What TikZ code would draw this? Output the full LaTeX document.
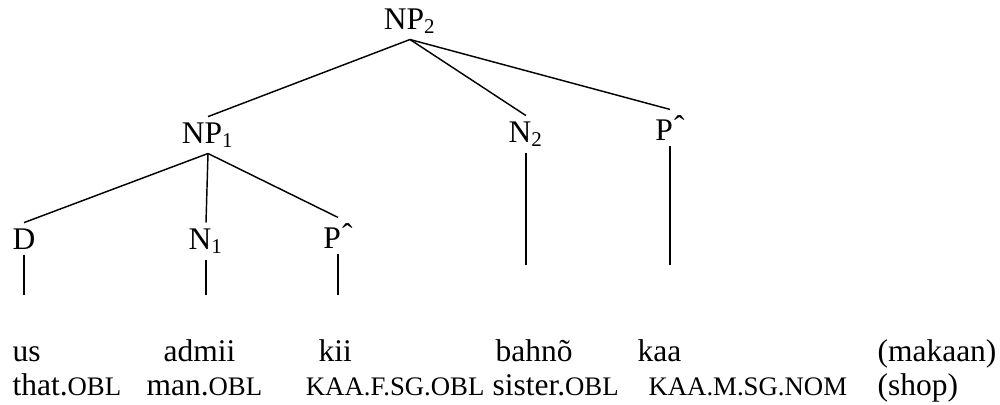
\documentclass[tikz,border=0pt]{standalone}
\usepackage{fontspec}
\setmainfont{Liberation Serif}
\usetikzlibrary{positioning}
\newcommand{\gl}[1]{{\fontsize{10.2}{11}\selectfont #1}}
\newcommand{\pcat}{P\kern.5pt\raisebox{.2ex}{ˆ}}

\begin{document}
\begin{tikzpicture}[x=0.381pt,y=-0.381pt,
  font=\fontsize{12}{14}\selectfont,
  cat/.style={anchor=base,inner sep=2pt},
  word/.style={anchor=base west,inner sep=0pt},
  branch/.style={line width=0.55pt}]

\useasboundingbox (0,0) rectangle (1000,404);

% kategori
\node[cat] (np2) at (410,29) {NP\textsubscript{2}};
\node[cat] (np1) at (208,143) {NP\textsubscript{1}};
\node[cat] (n2) at (526,142) {N\textsubscript{2}};
\node[cat] (pu) at (670,140) {\pcat};
\node[cat] (d) at (24,249) {D};
\node[cat] (n1) at (206,249) {N\textsubscript{1}};
\node[cat] (pl) at (338,248) {\pcat};

% ujung garis
\coordinate (mid) at (0,265);
\coordinate (low) at (0,295);

% cabang
\draw[branch] (np2.south) -- (np1.north);
\draw[branch] (np2.south) -- (n2.north);
\draw[branch] (np2.south) -- (pu.north);
\draw[branch] (np1.south) -- (d.north);
\draw[branch] (np1.south) -- (n1.north);
\draw[branch] (np1.south) -- (pl.north);
\draw[branch] (n2.south) -- (n2.south |- mid);
\draw[branch] (pu.south) -- (pu.south |- mid);
\draw[branch] (d.south) -- (d.south |- low);
\draw[branch] (n1.south) -- (n1.south |- low);
\draw[branch] (pl.south) -- (pl.south |- low);

% kata
\node[word] (w1) at (12,361) {us};
\node[word] (w2) at (163,361) {admii};
\node[word] (w3) at (318,361) {kii};
\node[word] (w4) at (495,361) {bahnõ};
\node[word] (w5) at (637,361) {kaa};
\node[word] (w6) at (877,361) {(makaan)};

% glos
\node[word] (g1) at (12,395) {that.\gl{OBL}};
\node[word] (g2) at (146,395) {man.\gl{OBL}};
\node[word,anchor=base east] (g3) at (485,395) {\gl{KAA.F.SG.OBL}};
\node[word] (g4) at (492,395) {sister.\gl{OBL}};
\node[word] (g5) at (648,395) {\gl{KAA.M.SG.NOM}};
\node[word] (g6) at (877,395) {(shop)};

\end{tikzpicture}
\end{document}
